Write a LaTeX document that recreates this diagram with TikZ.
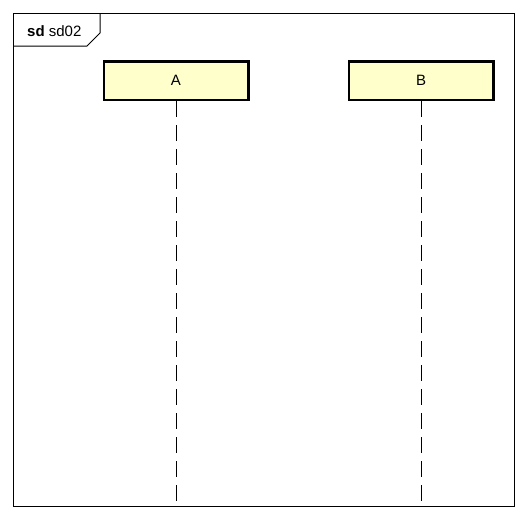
\documentclass[tikz,border=0pt]{standalone}
\usepackage{fontspec}
\setmainfont{Liberation Sans}
\usetikzlibrary{positioning}
\definecolor{headfill}{RGB}{255,255,204}
\tikzset{frame/.style={draw,line width=1pt},
 participant/.style={draw,line width=2.5pt,fill=headfill,minimum width=144.5pt,
  minimum height=38.5pt,inner sep=0pt},
 lifeline/.style={line width=1pt,dash pattern=on 16pt off 8pt},
 every node/.style={font=\fontsize{15}{18}\selectfont}}

\begin{document}
\begin{tikzpicture}[x=1pt,y=-1pt]
\useasboundingbox (0,0) rectangle (528,520);
% frame and its tab
\draw[frame] (13.5,13.5) rectangle (514,506);
\draw[frame] (13.5,46) -- (87,46) -- (100,33) -- (100,13.5);
\node[anchor=west,inner sep=0pt] (title) at (27,31) {\textbf{sd} sd02};
% participants
\node[participant] (A) at (176,80.5) {A};
\node[participant] (B) at (421,80.5) {B};
\coordinate (Aend) at (176,501);
\coordinate (Bend) at (421,501);
\draw[lifeline] (A.south) -- (Aend);
\draw[lifeline] (B.south) -- (Bend);
\end{tikzpicture}
\end{document}
